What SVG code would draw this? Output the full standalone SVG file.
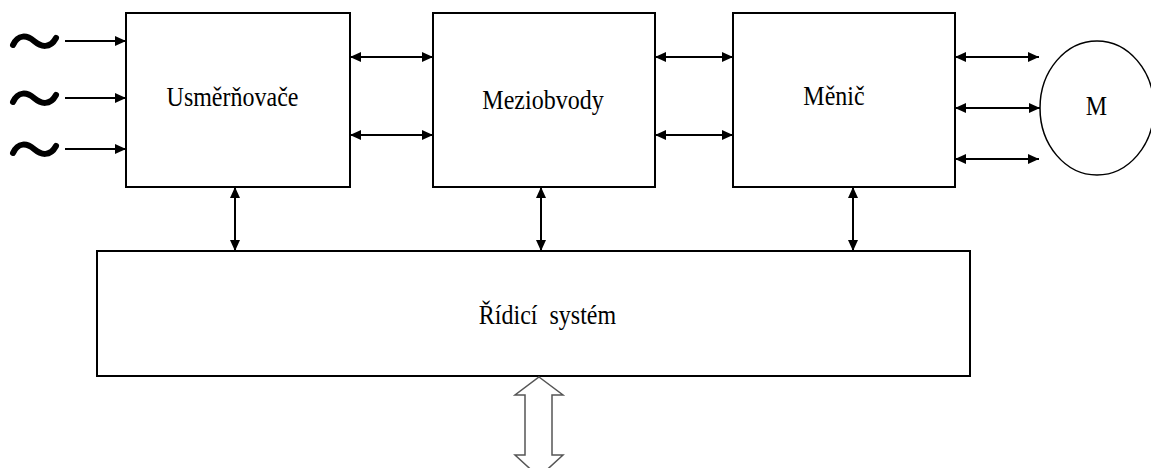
<svg xmlns="http://www.w3.org/2000/svg" width="1151" height="468" viewBox="0 0 1151 468">
<style>
.box{fill:#fff;stroke:#000;stroke-width:2}
.ln{stroke:#000;stroke-width:2;fill:none}
.t{font-family:"Liberation Serif","DejaVu Serif",serif;font-size:24px;fill:#000}
.w{stroke:#000;stroke-width:6;fill:none;stroke-linecap:round;stroke-linejoin:round}
</style>
<defs>
<marker id="ah" viewBox="0 0 11 10" refX="11" refY="5" markerWidth="11" markerHeight="10" markerUnits="userSpaceOnUse" orient="auto-start-reverse">
<path d="M0,0 L11,5 L0,10 z" fill="#000"/>
</marker>
</defs>
<rect width="1151" height="468" fill="#fff"/>
<g id="sources">
<path class="w" d="M13,45 C18,34 27,35 34,41 C41,47 50,49 56,38"/>
<path class="w" d="M13,102 C18,91 27,92 34,98 C41,104 50,106 56,95"/>
<path class="w" d="M13,153 C18,142 27,143 34,149 C41,155 50,157 56,146"/>
</g>
<g id="usmernovace">
<rect class="box" x="126" y="13" width="224" height="174"/>
<text class="t" transform="translate(232.5,106) scale(1,1.12)" text-anchor="middle">Usměrňovače</text>
</g>
<g id="meziobvody">
<rect class="box" x="433" y="13" width="222" height="174"/>
<text class="t" transform="translate(543,109) scale(1,1.12)" text-anchor="middle">Meziobvody</text>
</g>
<g id="menic">
<rect class="box" x="733" y="13" width="222" height="174"/>
<text class="t" transform="translate(834,105) scale(1,1.12)" text-anchor="middle">Měnič</text>
</g>
<g id="motor">
<ellipse cx="1097" cy="108" rx="57" ry="67" fill="#fff" stroke="#000" stroke-width="1.5"/>
<text class="t" transform="translate(1096.5,115) scale(1,1.12)" text-anchor="middle">M</text>
</g>
<g id="ridici">
<rect class="box" x="97" y="251" width="873" height="125"/>
<text class="t" transform="translate(547.5,324) scale(1,1.12)" text-anchor="middle" xml:space="preserve">Řídicí  systém</text>
</g>
<g id="connectors">
<line class="ln" x1="65" y1="41" x2="126" y2="41" marker-end="url(#ah)"/>
<line class="ln" x1="65" y1="98" x2="126" y2="98" marker-end="url(#ah)"/>
<line class="ln" x1="65" y1="149" x2="126" y2="149" marker-end="url(#ah)"/>
<line class="ln" x1="350" y1="57" x2="433" y2="57" marker-start="url(#ah)" marker-end="url(#ah)"/>
<line class="ln" x1="350" y1="135" x2="433" y2="135" marker-start="url(#ah)" marker-end="url(#ah)"/>
<line class="ln" x1="655" y1="57" x2="733" y2="57" marker-start="url(#ah)" marker-end="url(#ah)"/>
<line class="ln" x1="655" y1="135" x2="733" y2="135" marker-start="url(#ah)" marker-end="url(#ah)"/>
<line class="ln" x1="955" y1="57" x2="1039" y2="57" marker-start="url(#ah)" marker-end="url(#ah)"/>
<line class="ln" x1="955" y1="108" x2="1040" y2="108" marker-start="url(#ah)" marker-end="url(#ah)"/>
<line class="ln" x1="955" y1="159" x2="1039" y2="159" marker-start="url(#ah)" marker-end="url(#ah)"/>
<line class="ln" x1="235" y1="187" x2="235" y2="251" marker-start="url(#ah)" marker-end="url(#ah)"/>
<line class="ln" x1="541" y1="187" x2="541" y2="251" marker-start="url(#ah)" marker-end="url(#ah)"/>
<line class="ln" x1="853" y1="187" x2="853" y2="251" marker-start="url(#ah)" marker-end="url(#ah)"/>
<path d="M539,377 L563,395 L552,395 L552,455 L563,455 L539,477 L515,455 L525,455 L525,395 L515,395 Z" fill="#fff" stroke="#555" stroke-width="1.5"/>
</g>
</svg>
